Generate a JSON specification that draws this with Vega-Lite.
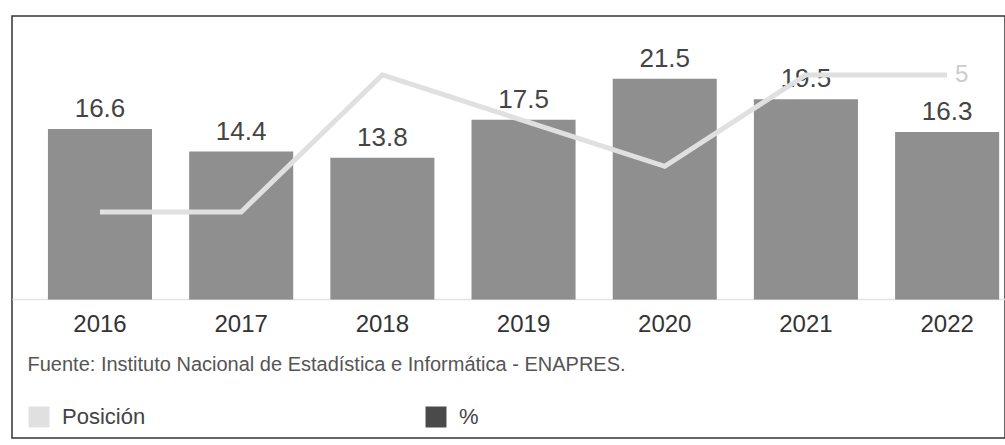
{
  "$schema": "https://vega.github.io/schema/vega-lite/v6.json",
  "width": 993,
  "height": 422,
  "autosize": "none",
  "padding": {"left": 12, "top": 16, "right": 0, "bottom": 7},
  "background": "white",
  "config": {
    "view": {"stroke": "#333333", "strokeWidth": 1.5},
    "font": "Liberation Sans"
  },
  "data": {
    "values": [
      {"year": "2016", "pct": 16.6, "pos": 11},
      {"year": "2017", "pct": 14.4, "pos": 11},
      {"year": "2018", "pct": 13.8, "pos": 5},
      {"year": "2019", "pct": 17.5, "pos": 7},
      {"year": "2020", "pct": 21.5, "pos": 9},
      {"year": "2021", "pct": 19.5, "pos": 5},
      {"year": "2022", "pct": 16.3, "pos": 5}
    ]
  },
  "encoding": {
    "x": {
      "field": "year",
      "type": "ordinal",
      "scale": {"paddingInner": 0.263, "paddingOuter": 0.148, "align": 0.86},
      "axis": {
        "orient": "bottom",
        "offset": -139,
        "labelAngle": 0,
        "labelFontSize": 24,
        "labelColor": "#333333",
        "labelBaseline": "alphabetic",
        "labelPadding": 32,
        "ticks": false,
        "tickSize": 0,
        "domainColor": "#e4e4e4",
        "domainWidth": 1.5,
        "title": "Fuente: Instituto Nacional de Estadística e Informática - ENAPRES.",
        "titleX": 15,
        "titleY": 71,
        "titleAlign": "left",
        "titleAnchor": "start",
        "titleBaseline": "alphabetic",
        "titleFontSize": 20,
        "titleFontWeight": "normal",
        "titleColor": "#555555"
      }
    }
  },
  "layer": [
    {
      "mark": {"type": "bar", "fillOpacity": 0.62},
      "encoding": {
        "y": {"field": "pct", "type": "quantitative", "scale": {"domain": [-13.5, 27.6], "nice": false, "zero": false}, "axis": null},
        "color": {
          "datum": "%",
          "type": "nominal",
          "scale": {"domain": ["Posición", "%"], "range": ["#e0e0e0", "#4a4a4a"]},
          "legend": {
            "title": null,
            "orient": "none",
            "legendX": 16,
            "legendY": 390,
            "direction": "horizontal",
            "symbolType": "square",
            "symbolSize": 440,
            "symbolStrokeWidth": 0,
            "symbolOpacity": 1,
            "labelFontSize": 22,
            "labelColor": "#444444",
            "labelOffset": 12,
            "columnPadding": 279,
            "gridAlign": "all",
            "encode": {
              "symbols": {
                "update": {
                  "fillOpacity": {"value": 1},
                  "opacity": {"value": 1}
                }
              }
            }
          }
        }
      }
    },
    {
      "mark": {"type": "text", "dy": -12, "baseline": "alphabetic", "fontSize": 26, "color": "#444444"},
      "encoding": {
        "y": {"field": "pct", "type": "quantitative", "scale": {"domain": [-13.5, 27.6], "nice": false, "zero": false}, "axis": null},
        "text": {"field": "pct", "type": "quantitative", "format": ".1f"}
      }
    },
    {
      "mark": {"type": "line", "strokeWidth": 5},
      "encoding": {
        "y": {"field": "pos", "type": "quantitative", "scale": {"domain": [2.42, 20.9], "reverse": true, "nice": false, "zero": false}, "axis": null},
        "color": {"datum": "Posición", "type": "nominal"}
      }
    },
    {
      "transform": [{"filter": "datum.year == '2022'"}],
      "mark": {"type": "text", "dx": 8, "align": "left", "baseline": "middle", "fontSize": 24, "color": "#cccccc"},
      "encoding": {
        "y": {"field": "pos", "type": "quantitative", "scale": {"domain": [2.42, 20.9], "reverse": true, "nice": false, "zero": false}, "axis": null},
        "text": {"field": "pos", "type": "quantitative"}
      }
    }
  ],
  "resolve": {"scale": {"y": "independent"}}
}
